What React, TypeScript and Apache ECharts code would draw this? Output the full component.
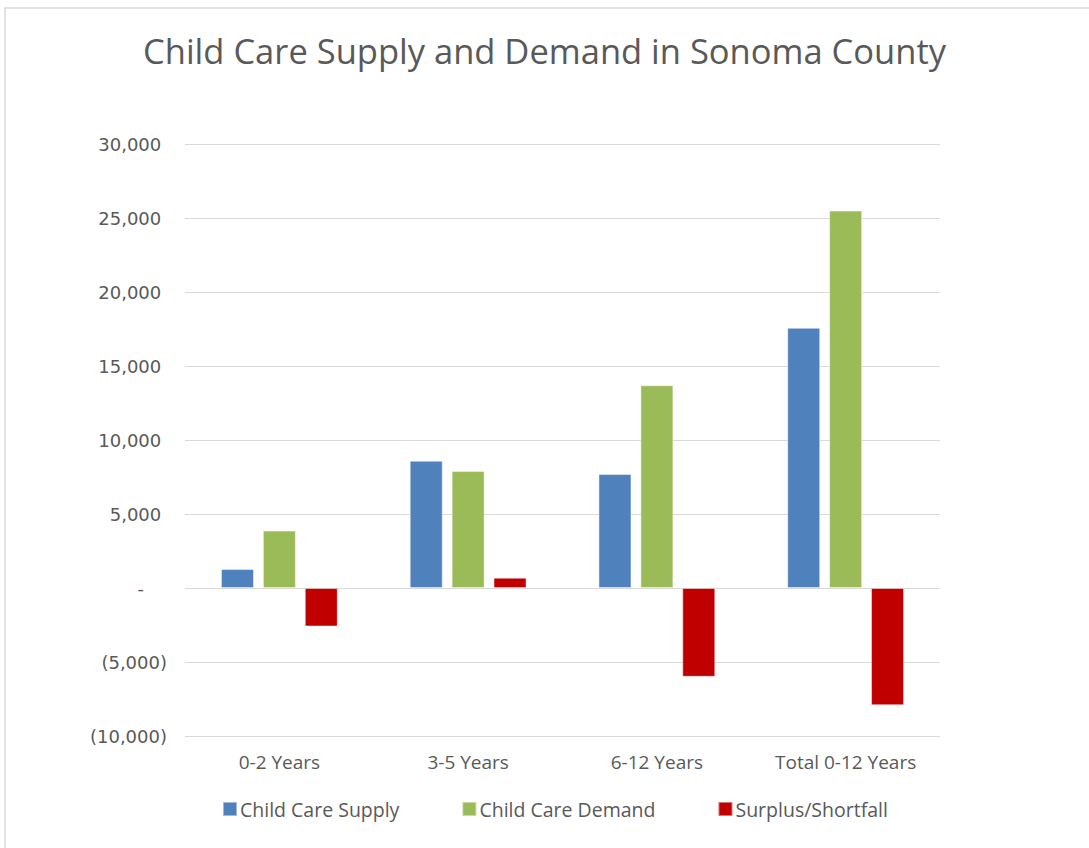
import React, { useEffect, useRef } from "react";
import * as echarts from "echarts";

const categories = ["0-2 Years", "3-5 Years", "6-12 Years", "Total 0-12 Years"];
const supply = [1280, 8600, 7700, 17580];
const demand = [3880, 7900, 13700, 25500];
const surplus = [-2600, 700, -6000, -7920];
const seriesNames = ["Child Care Supply", "Child Care Demand", "Surplus/Shortfall"];
const colors = ["#4F81BD", "#9BBB59", "#C00000"];
const yMin = -10000;
const yMax = 30000;
const yStep = 5000;

function fmt(v: number): string {
  if (v === 0) return "-    ";
  const s = Math.abs(v).toLocaleString("en-US");
  return v < 0 ? "(" + s + ")" : s + " ";
}

export default function App() {
  const ref = useRef<HTMLDivElement>(null);
  useEffect(() => {
    if (!ref.current) return;
    const chart = echarts.init(ref.current, null, { renderer: "svg" });
    const textFont = "Open Sans";
    const mk = (name: string, data: number[], color: string) => ({
      name,
      type: "bar",
      data,
      barWidth: 33,
      barGap: "27%",
      itemStyle: { color, borderColor: "rgba(255,255,255,0.45)", borderWidth: 1 },
    });
    chart.setOption({
      animation: false,
      backgroundColor: "#ffffff",
      title: {
        text: "Child Care Supply and Demand in Sonoma County",
        left: "center",
        top: 28,
        textStyle: { fontFamily: textFont, fontSize: 34.5, fontWeight: "normal", color: "#595959" },
      },
      graphic: [
        {
          type: "rect",
          shape: { x: 5, y: 8, width: 1100, height: 900 },
          style: { fill: "none", stroke: "#d9d9d9", lineWidth: 1.5 },
          silent: true,
        },
      ],
      legend: {
        bottom: 24,
        left: 217,
        itemWidth: 14,
        itemHeight: 14,
        itemGap: 62,
        icon: "rect",
        data: seriesNames,
        textStyle: { fontFamily: textFont, fontSize: 19.5, color: "#595959", padding: [0, 0, 0, -2] },
      },
      grid: { left: 185, right: 149, top: 144, bottom: 112 },
      xAxis: {
        type: "category",
        data: categories,
        axisLine: { show: false, onZero: false },
        axisTick: { show: false },
        axisLabel: { fontFamily: textFont, fontSize: 19, color: "#595959", margin: 16 },
      },
      yAxis: {
        type: "value",
        min: yMin,
        max: yMax,
        interval: yStep,
        axisLine: { show: false },
        axisTick: { show: false },
        splitLine: { lineStyle: { color: "#d9d9d9", width: 1 } },
        axisLabel: {
          formatter: (v: number) => fmt(v),
          fontFamily: "DejaVu Sans",
          fontSize: 18,
          color: "#595959",
          margin: 18,
        },
      },
      series: [
        mk(seriesNames[0], supply, colors[0]),
        mk(seriesNames[1], demand, colors[1]),
        mk(seriesNames[2], surplus, colors[2]),
      ],
    });
    return () => chart.dispose();
  }, []);
  return <div ref={ref} style={{ position: "fixed", left: 0, top: 0, width: 1089, height: 848 }} />;
}
